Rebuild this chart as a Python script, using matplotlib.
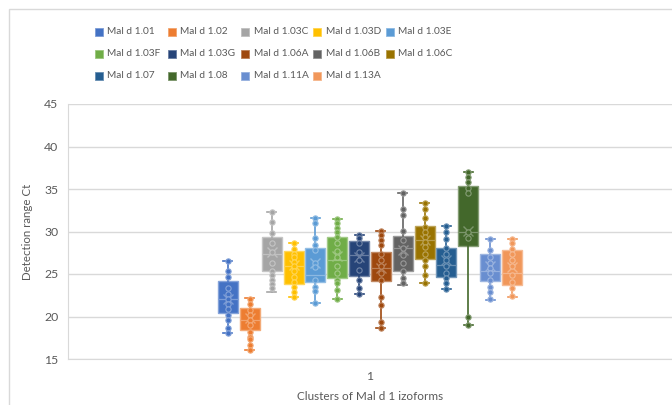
import matplotlib
matplotlib.use("Agg")
import matplotlib.pyplot as plt
from matplotlib.patches import Rectangle
import matplotlib.colors as mcolors
import numpy as np

plt.rcParams['font.family'] = ['Lato', 'DejaVu Sans']

series = ["Mal d 1.01", "Mal d 1.02", "Mal d 1.03C", "Mal d 1.03D", "Mal d 1.03E",
          "Mal d 1.03F", "Mal d 1.03G", "Mal d 1.06A", "Mal d 1.06B", "Mal d 1.06C",
          "Mal d 1.07", "Mal d 1.08", "Mal d 1.11A", "Mal d 1.13A"]
colors = ["#4472C4", "#ED7D31", "#A5A5A5", "#FFC000", "#5B9BD5", "#70AD47", "#264478",
          "#9E480E", "#636363", "#997300", "#255E91", "#43682B", "#698ED0", "#F1975A"]

whis_lo = [18.1, 16.1, 22.9, 22.3, 21.55, 22.1, 22.6, 18.6, 23.7, 23.9, 23.2, 19.0, 22.0, 22.3]
q1      = [20.45, 18.45, 25.4, 23.8, 24.1, 24.5, 24.8, 24.2, 25.4, 26.8, 24.7, 28.3, 24.2, 23.7]
median  = [22.05, 19.6, 27.35, 25.9, 24.9, 26.65, 27.2, 25.7, 28.1, 29.0, 26.1, 29.9, 25.4, 25.15]
q3      = [24.2, 21.0, 29.4, 27.75, 28.1, 29.3, 28.9, 27.6, 29.5, 30.65, 28.1, 35.4, 27.4, 27.8]
whis_hi = [26.5, 22.2, 32.25, 28.6, 31.55, 31.5, 29.6, 30.1, 34.5, 33.4, 30.7, 37.0, 29.1, 29.1]
means   = [22.1, 19.8, 27.55, 26.05, 26.3, 27.1, 27.0, 25.7, 27.8, 29.0, 26.65, 30.05, 25.9, 25.8]

points = [
    [26.5, 25.4, 24.7, 23.3, 22.7, 22.1, 21.5, 20.9, 20.2, 19.6, 18.7, 18.1],
    [22.1, 21.5, 20.8, 20.2, 19.6, 19.0, 18.2, 17.6, 17.3, 16.6, 16.1],
    [32.25, 31.1, 29.8, 28.6, 27.6, 26.3, 25.3, 24.9, 24.3, 23.8, 23.3],
    [28.6, 28.0, 27.4, 27.0, 26.45, 25.9, 25.3, 24.7, 24.1, 23.5, 22.9, 22.3],
    [31.55, 31.0, 29.2, 28.4, 27.8, 26.3, 25.8, 24.3, 23.5, 23.0, 21.55],
    [31.5, 31.0, 30.45, 29.9, 29.3, 28.6, 27.75, 27.05, 25.9, 25.1, 24.3, 23.9, 23.1, 22.1],
    [29.6, 29.2, 28.6, 27.6, 26.65, 25.5, 24.3, 23.3, 22.6],
    [30.1, 29.6, 29.0, 28.4, 27.4, 26.65, 25.9, 25.1, 24.3, 22.3, 21.35, 19.3, 18.6],
    [34.5, 32.7, 32.0, 30.1, 29.0, 28.1, 27.2, 26.3, 25.4, 24.5, 23.9],
    [33.4, 32.6, 31.55, 30.55, 29.95, 29.4, 28.8, 28.2, 27.4, 26.65, 25.9, 24.9, 23.9],
    [30.7, 30.0, 29.1, 28.1, 27.4, 26.65, 25.95, 25.1, 24.5, 23.9, 23.2],
    [37.0, 36.45, 35.85, 35.1, 34.5, 30.0, 29.2, 20.0, 19.0],
    [29.1, 27.8, 27.0, 26.3, 25.7, 25.1, 24.3, 23.5, 22.9, 22.1],
    [29.1, 28.6, 28.0, 27.4, 26.65, 25.9, 24.9, 24.1, 23.35, 22.4],
]

category_labels = ["1"]
yticks = [15, 20, 25, 30, 35, 40, 45]

W, H = 672, 405
fig = plt.figure(figsize=(W / 100, H / 100), dpi=100)
fig.patch.set_facecolor("white")

# chart area border
fig.add_artist(Rectangle((9 / W, -0.01), 1.0, 1 - 9 / H + 0.01, transform=fig.transFigure,
                         fill=False, edgecolor="#D9D9D9", linewidth=1.0))

ax = fig.add_axes([68 / W, 1 - 359 / H, (672 - 68) / W, (359 - 104) / H])
ax.set_xlim(0.5, 1.5)
ax.set_ylim(15, 45)

pitch = 21.85 / 604
width = 20.0 / 604
n = len(series)
positions = [1.0 + (i - (n - 1) / 2) * pitch for i in range(n)]

gray = "#595959"


def lighten(c, f):
    r, g, b = mcolors.to_rgb(c)
    return (r + (1 - r) * f, g + (1 - g) * f, b + (1 - b) * f)


for i in range(n):
    c = colors[i]
    st = [dict(whislo=whis_lo[i], q1=q1[i], med=median[i], q3=q3[i],
               whishi=whis_hi[i], mean=means[i], fliers=[])]
    ax.bxp(st, positions=[positions[i]], widths=width, patch_artist=True,
           showmeans=True, showfliers=False, manage_ticks=False,
           boxprops=dict(facecolor=c, edgecolor=lighten(c, 0.35), linewidth=1.0),
           whiskerprops=dict(color=c, linewidth=1.2),
           capprops=dict(color=c, linewidth=1.2),
           capwidths=width * 0.45,
           medianprops=dict(color=lighten(c, 0.3), linewidth=0.9),
           meanprops=dict(marker="x", markeredgecolor=lighten(c, 0.3),
                          markersize=7, markeredgewidth=1.0),
           zorder=3)
    ax.plot([positions[i]] * len(points[i]), points[i], linestyle="none",
            marker="o", markersize=3.8, markerfacecolor=c,
            markeredgecolor=lighten(c, 0.35), markeredgewidth=0.8, zorder=4)

ax.set_yticks(yticks)
ax.set_xticks([1.0])
ax.set_xticklabels(category_labels)
ax.grid(axis="y", color="#D9D9D9", linewidth=1.0, zorder=0)
ax.set_axisbelow(True)
for s in ["top", "right"]:
    ax.spines[s].set_visible(False)
ax.spines["left"].set_color("#D9D9D9")
ax.spines["bottom"].set_color("#D9D9D9")
ax.tick_params(axis="both", length=0, labelcolor=gray, labelsize=8.8)
ax.tick_params(axis="y", pad=7)
ax.tick_params(axis="x", pad=9)
ax.set_ylabel("Detection range Ct", color=gray, fontsize=8.3, labelpad=8)
ax.set_xlabel("Clusters of Mal d 1 izoforms", color=gray, fontsize=8.5, labelpad=6)

# legend (Excel style grid)
col_x = [95, 168, 241, 313, 386]
row_y = [32, 54, 76]
sq = 8
for i, (name, c) in enumerate(zip(series, colors)):
    r, k = divmod(i, 5)
    x0 = col_x[k]
    y0 = row_y[r]
    fig.add_artist(Rectangle((x0 / W, 1 - (y0 + sq / 2) / H), sq / W, sq / H,
                             transform=fig.transFigure, facecolor=c,
                             edgecolor=lighten(c, 0.3), linewidth=0.6))
    fig.text((x0 + 12.5) / W, 1 - y0 / H, name, color=gray, fontsize=7.3,
             va="center", ha="left")

fig.savefig("out.png", dpi=100)
